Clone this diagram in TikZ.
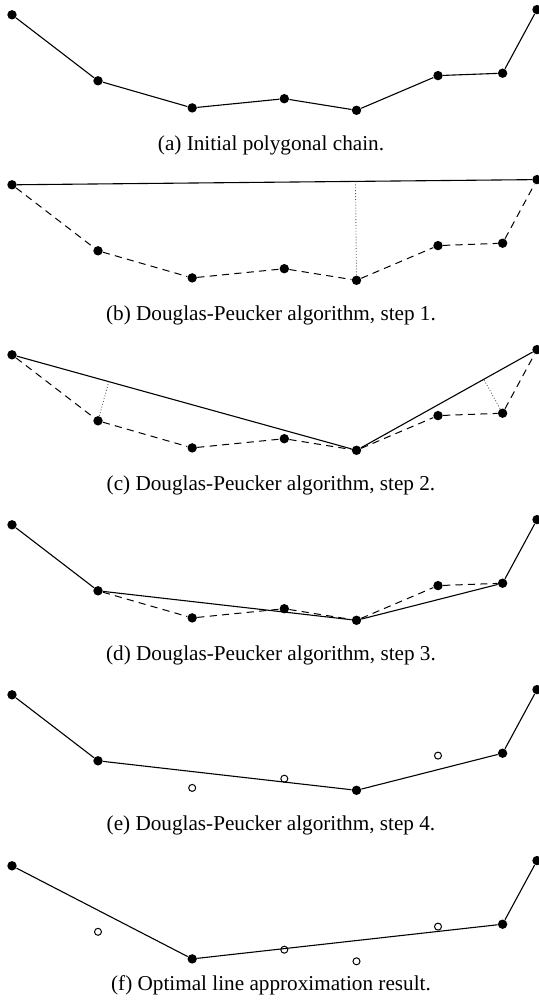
\documentclass[tikz,border=0pt]{standalone}
\usepackage{fontspec}
\setmainfont{Liberation Serif}
\usetikzlibrary{calc}

\tikzset{
  dot/.style={circle,fill=black,inner sep=0pt,minimum size=4.7pt},
  hollow/.style={circle,draw=black,fill=white,line width=0.5pt,inner sep=0pt,minimum size=3.5pt},
  chainline/.style={line width=0.55pt},
  oldchain/.style={line width=0.5pt,dash pattern=on 3.6pt off 2.6pt},
  gapline/.style={black!65,line width=0.45pt,densely dotted},
  caption/.style={anchor=base,inner sep=0pt,font=\fontsize{10.6}{12}\selectfont},
}

% vertices of the polygonal chain (x right, y down, one unit = one pixel)
\def\ptx{{12.0,98.0,192.2,284.3,356.5,438.0,502.6,537.0}}
\def\pty{{14.8,80.8,107.9,98.7,110.3,75.6,73.2,9.6}}

% \placechain{prefix}{vertical offset}{style of each vertex}
\newcommand\placechain[3]{%
  \foreach \s [count=\i from 0] in {#3}{%
    \pgfmathsetmacro\cx{\ptx[\i]}%
    \pgfmathsetmacro\cy{\pty[\i]+#2}%
    \pgfmathtruncatemacro\k{\i+1}%
    \node[\s] (#1\k) at (\cx,\cy) {};
  }%
}

\begin{document}
\begin{tikzpicture}[x=0.5pt,y=-0.5pt]
\useasboundingbox (0,0) rectangle (539,1000);

% (a) initial chain
\placechain{a}{0}{dot,dot,dot,dot,dot,dot,dot,dot}
\draw[chainline] (a1) -- (a2) -- (a3) -- (a4) -- (a5) -- (a6) -- (a7) -- (a8);
\node[caption] (capa) at (271,150.2) {(a) Initial polygonal chain.};

% (b) first split
\placechain{b}{170}{dot,dot,dot,dot,dot,dot,dot,dot}
\draw[oldchain] (b1) -- (b2) -- (b3) -- (b4) -- (b5) -- (b6) -- (b7) -- (b8);
\draw[chainline] (b1) -- (b8);
\draw[gapline] (b5) -- ($(b1)!(b5)!(b8)$);
\node[caption] (capb) at (271,320.2) {(b) Douglas-Peucker algorithm, step 1.};

% (c) second split
\placechain{c}{340}{dot,dot,dot,dot,dot,dot,dot,dot}
\draw[oldchain] (c1) -- (c2) -- (c3) -- (c4) -- (c5) -- (c6) -- (c7) -- (c8);
\draw[chainline] (c1) -- (c5) -- (c8);
\draw[gapline] (c2) -- ($(c1)!(c2)!(c5)$);
\draw[gapline] (c7) -- ($(c5)!(c7)!(c8)$);
\node[caption] (capc) at (271,490.2) {(c) Douglas-Peucker algorithm, step 2.};

% (d) third split
\placechain{d}{510}{dot,dot,dot,dot,dot,dot,dot,dot}
\draw[oldchain] (d2) -- (d3) -- (d4) -- (d5) -- (d6) -- (d7);
\draw[chainline] (d1) -- (d2) -- (d5) -- (d7) -- (d8);
\node[caption] (capd) at (271,660.2) {(d) Douglas-Peucker algorithm, step 3.};

% (e) result of the splitting
\placechain{e}{680}{dot,dot,hollow,hollow,dot,hollow,dot,dot}
\draw[chainline] (e1) -- (e2) -- (e5) -- (e7) -- (e8);
\node[caption] (cape) at (271,830.2) {(e) Douglas-Peucker algorithm, step 4.};

% (f) optimal approximation
\placechain{f}{851}{dot,hollow,dot,hollow,hollow,hollow,dot,dot}
\draw[chainline] (f1) -- (f3) -- (f7) -- (f8);
\node[caption] (capf) at (271,990.2) {(f) Optimal line approximation result.};
\end{tikzpicture}
\end{document}
